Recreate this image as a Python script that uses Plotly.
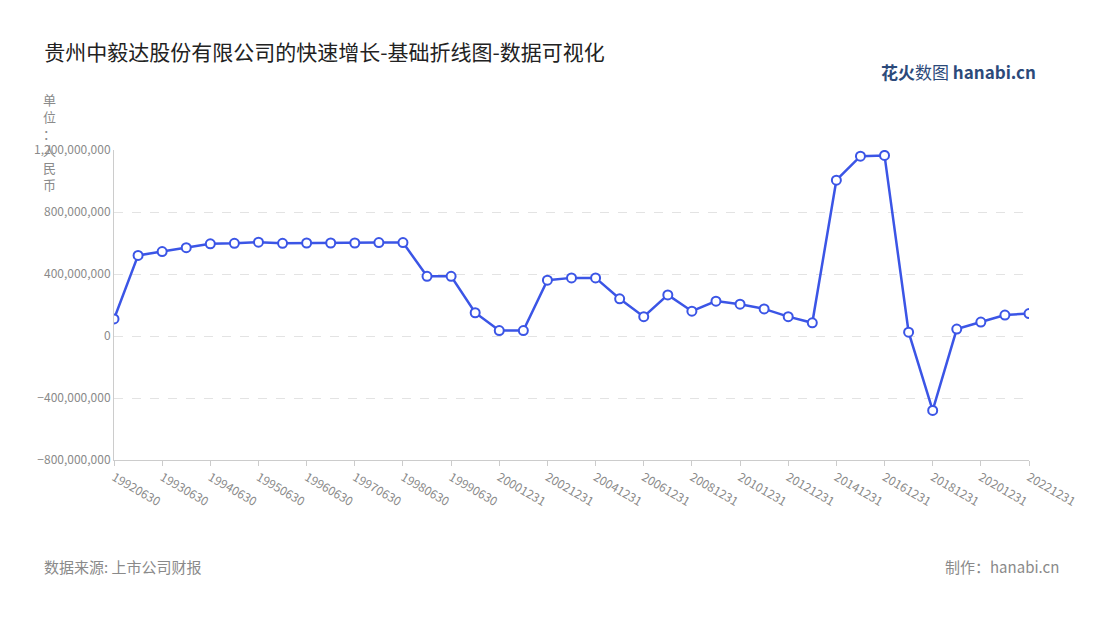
import plotly.graph_objects as go

dates = (
    ["19920630", "19921231", "19930630", "19931231", "19940630", "19941231",
     "19950630", "19951231", "19960630", "19961231", "19970630", "19971231",
     "19980630", "19981231", "19990630", "19991231"]
    + [f"{y}1231" for y in range(2000, 2023)]
)
values = [
    110e6, 520e6, 545e6, 570e6, 595e6, 598e6, 605e6, 598e6, 600e6, 600e6,
    600e6, 603e6, 603e6, 385e6, 385e6, 150e6, 35e6, 35e6, 360e6, 375e6,
    375e6, 240e6, 125e6, 265e6, 160e6, 225e6, 205e6, 175e6, 125e6, 85e6,
    1005e6, 1160e6, 1165e6, 25e6, -480e6, 45e6, 90e6, 135e6, 145e6,
]
y_ticks = [-800e6, -400e6, 0, 400e6, 800e6, 1200e6]

fig = go.Figure(go.Scatter(
    x=dates, y=values, mode="lines+markers",
    line=dict(color="#3b55e6", width=2.5),
    marker=dict(size=9, color="white", line=dict(color="#3b55e6", width=2)),
    hovertemplate="%{x}<br>%{y:,.0f}<extra></extra>",
))

grey = "#8a8a8a"
fig.update_layout(
    width=1100, height=620,
    paper_bgcolor="white", plot_bgcolor="white",
    font=dict(family="Noto Sans CJK SC", color=grey),
    margin=dict(l=106, r=79, t=142, b=168),
    showlegend=False,
    title=dict(text="贵州中毅达股份有限公司的快速增长-基础折线图-数据可视化",
               x=0.033, xanchor="left", y=0.94,
               font=dict(size=21, color="#222222")),
    xaxis=dict(
        type="category", tickvals=dates[::2], tickangle=30,
        tickfont=dict(size=12, color=grey), showgrid=False,
        showline=True, linecolor="#cccccc", ticks="outside",
        tickcolor="#cccccc", ticklen=5, range=[0, len(dates) - 1],
    ),
    yaxis=dict(
        range=[-800e6, 1200e6], tickvals=y_ticks,
        tickformat=",.0f", tickfont=dict(size=12, color=grey),
        gridcolor="#e3e3e3", griddash="dash", zeroline=False,
        showline=True, linecolor="#cccccc",
    ),
    annotations=[
        dict(text="单<br>位<br>：<br>人<br>民<br>币", xref="paper", yref="paper",
             x=-0.07, y=1.2, xanchor="center", yanchor="top", showarrow=False,
             font=dict(size=13, color=grey)),
        dict(text="数据来源: 上市公司财报", xref="paper", yref="paper",
             x=-0.079, y=-0.385, xanchor="left", showarrow=False,
             font=dict(size=15, color=grey)),
        dict(text="制作：hanabi.cn", xref="paper", yref="paper",
             x=1.035, y=-0.385, xanchor="right", showarrow=False,
             font=dict(size=15, color=grey)),
        dict(text="<b>花火</b>数图 <b>hanabi.cn</b>", xref="paper", yref="paper",
             x=1.01, y=1.30, xanchor="right", showarrow=False,
             font=dict(size=17, color="#2c4a7a")),
    ],
)

fig.write_html("out.html")
